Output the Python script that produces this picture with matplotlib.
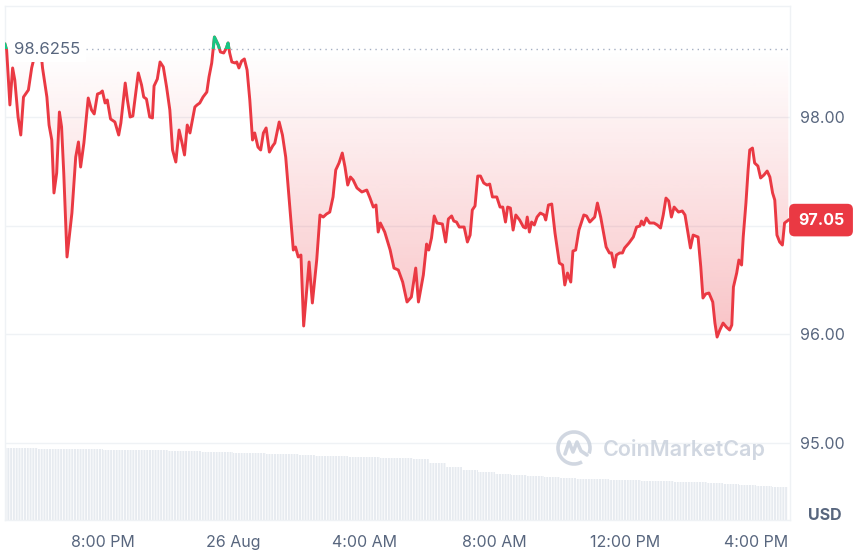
import numpy as np
import pandas as pd
import matplotlib
matplotlib.use('Agg')
import matplotlib.pyplot as plt
import matplotlib.dates as mdates
from matplotlib.path import Path
from matplotlib.patches import Arc, Rectangle, PathPatch

plt.rcParams['font.family'] = ['Inter', 'DejaVu Sans']

# --- data ---
start = pd.Timestamp('2024-08-25 17:00')
baseline = 98.6255
last_price = 97.05

minutes = [0, 3, 9, 14, 18, 24, 29, 34, 43, 49, 57, 64, 69, 77, 81, 86, 90, 95, 100, 104,
           108, 114, 123, 130, 135, 139, 145, 153, 159, 164, 170, 175, 179, 184, 188, 194, 202, 209, 213, 221,
           225, 230, 235, 245, 251, 255, 260, 266, 271, 274, 280, 285, 291, 297, 303, 308, 314, 320, 325, 330,
           335, 340, 349, 353, 358, 364, 371, 375, 380, 385, 392, 396, 402, 407, 410, 413, 417, 423, 426, 430,
           435, 440, 445, 450, 455, 459, 465, 470, 475, 480, 486, 492, 496, 504, 510, 516, 522, 530, 534, 539,
           544, 549, 559, 565, 573, 579, 585, 591, 597, 603, 608, 614, 620, 625, 630, 635, 640, 647, 656, 665,
           671, 677, 682, 686, 690, 698, 708, 715, 723, 731, 739, 747, 755, 760, 769, 775, 779, 784, 789, 794,
           804, 810, 815, 821, 825, 830, 835, 844, 850, 855, 859, 864, 869, 874, 880, 886, 891, 896, 904, 910,
           915, 920, 924, 929, 934, 939, 946, 953, 957, 960, 964, 968, 973, 978, 984, 991, 994, 999, 1005, 1011,
           1019, 1025, 1029, 1034, 1040, 1044, 1049, 1055, 1064, 1069, 1075, 1084, 1089, 1095, 1105, 1111, 1115, 1120, 1124, 1130,
           1135, 1139, 1147, 1155, 1161, 1167, 1170, 1174, 1179, 1185, 1193, 1199, 1205, 1210, 1215, 1220, 1225, 1230, 1238, 1245,
           1250, 1256, 1260, 1265, 1274, 1279, 1283, 1288, 1294, 1301, 1305, 1309, 1314, 1320, 1326, 1332, 1336, 1339, 1345, 1349,
           1354, 1357, 1362, 1366, 1369, 1374, 1378, 1384, 1389, 1395, 1401, 1406, 1411, 1415, 1419, 1424, 1429, 1433, 1440]

prices = [98.67, 98.618, 98.111, 98.452, 98.341, 98.000, 97.834, 98.184, 98.249, 98.452,
          98.618, 98.710, 98.452, 98.184, 97.926, 97.788, 97.300, 97.484, 98.046, 97.908,
          97.484, 96.710, 97.115, 97.631, 97.770, 97.539, 97.760, 98.175, 98.065, 98.028,
          98.212, 98.221, 98.240, 98.129, 98.157, 97.982, 97.954, 97.834, 97.945, 98.313,
          98.157, 98.000, 98.009, 98.406, 98.295, 98.184, 98.166, 98.000, 97.991, 98.286,
          98.350, 98.507, 98.461, 98.277, 98.065, 97.696, 97.585, 97.880, 97.770, 97.650,
          97.926, 97.853, 98.092, 98.111, 98.129, 98.184, 98.230, 98.369, 98.498, 98.737,
          98.664, 98.599, 98.590, 98.636, 98.682, 98.590, 98.507, 98.498, 98.507, 98.452,
          98.516, 98.535, 98.433, 98.157, 97.788, 97.853, 97.723, 97.696, 97.853, 97.899,
          97.677, 97.733, 97.760, 97.954, 97.834, 97.631, 97.263, 96.774, 96.802, 96.710,
          96.728, 96.074, 96.664, 96.286, 96.682, 97.097, 97.078, 97.106, 97.124, 97.263,
          97.512, 97.576, 97.668, 97.539, 97.373, 97.447, 97.419, 97.346, 97.309, 97.327,
          97.253, 97.170, 97.189, 96.940, 97.023, 96.940, 96.774, 96.608, 96.590, 96.479,
          96.295, 96.341, 96.608, 96.295, 96.544, 96.829, 96.774, 96.885, 97.088, 97.023,
          97.014, 96.848, 97.060, 97.088, 97.041, 97.032, 96.986, 96.986, 96.848, 96.912,
          97.143, 97.180, 97.456, 97.456, 97.392, 97.373, 97.382, 97.263, 97.263, 97.170,
          97.170, 97.032, 97.170, 97.161, 96.958, 97.097, 97.051, 96.986, 96.977, 97.078,
          96.940, 97.032, 97.005, 97.078, 97.115, 97.097, 97.051, 97.189, 97.198, 96.931,
          96.654, 96.636, 96.452, 96.562, 96.479, 96.765, 96.774, 96.958, 97.097, 97.088,
          97.032, 97.078, 97.207, 97.078, 96.802, 96.747, 96.747, 96.617, 96.728, 96.747,
          96.747, 96.793, 96.839, 96.894, 96.986, 96.995, 97.041, 97.005, 97.069, 97.023,
          97.023, 97.005, 96.977, 97.097, 97.253, 97.226, 97.078, 97.170, 97.124, 97.134,
          97.097, 96.912, 96.793, 96.912, 96.894, 96.617, 96.332, 96.369, 96.378, 96.295,
          96.101, 95.972, 96.037, 96.101, 96.064, 96.037, 96.083, 96.433, 96.562, 96.682,
          96.636, 96.894, 97.207, 97.512, 97.696, 97.714, 97.576, 97.548, 97.438, 97.465,
          97.502, 97.447, 97.300, 97.235, 96.912, 96.848, 96.820, 97.023, 97.05]

# half-hourly volume (relative units), from 5 PM
volume = [72, 72, 71.5, 71.5, 71, 71, 70.5, 70.5, 70, 70, 69.5, 69, 68.5, 68, 67.5, 67,
          66.5, 66, 65, 64.5, 64, 63.5, 63, 62.5, 62, 61, 57, 53, 50, 48, 46, 45,
          44, 43, 42, 41.5, 41, 40.5, 40, 39.5, 39, 38.5, 38, 37.5, 36, 35, 34, 33]

tick_times = ['2024-08-25 20:00', '2024-08-26 00:00', '2024-08-26 04:00',
              '2024-08-26 08:00', '2024-08-26 12:00', '2024-08-26 16:00']
tick_labels = ['8:00 PM', '26 Aug', '4:00 AM', '8:00 AM', '12:00 PM', '4:00 PM']
price_ticks = [95, 96, 97, 98]

RED = '#ea3943'
GREEN = '#16c784'
TEXT = '#58667e'
GRID = '#eff2f5'

t = mdates.date2num(start + pd.to_timedelta(minutes, unit='m'))
p = np.array(prices)
vol_t = mdates.date2num(start + pd.to_timedelta(np.arange(len(volume)) * 30, unit='m'))
x0 = mdates.date2num(start)
x1 = mdates.date2num(start + pd.Timedelta(minutes=1443))

fig = plt.figure(figsize=(8.55, 5.5), dpi=100)
rect = [5 / 855, 30 / 550, 785 / 855, 514 / 550]
ax_v = fig.add_axes(rect)
ax = fig.add_axes(rect)
ax.patch.set_visible(False)

# volume bars in the background
plt.rcParams['hatch.linewidth'] = 0.6
ax_v.bar(vol_t, volume, width=1 / 48, align='edge', color='#e7ebf0',
         edgecolor='white', hatch='||||||', linewidth=0)
ax_v.set_ylim(0, max(volume) * 514 / 72)
ax_v.set_xlim(x0, x1)
ax_v.axis('off')

# gradient fill between line and opening price
ylo, yhi = 94.286, 99.023
below = ax.fill_between(t, p, baseline, where=p <= baseline, interpolate=True,
                        facecolor='none', edgecolor='none')
above = ax.fill_between(t, p, baseline, where=p >= baseline, interpolate=True,
                        facecolor='none', edgecolor='none')

grad = np.zeros((256, 1, 4))
grad[:, 0, :3] = matplotlib.colors.to_rgb(RED)
grad[:, 0, 3] = np.linspace(0.31, 0.0, 256)
img = ax.imshow(grad, extent=[x0, x1, 95.9, baseline], aspect='auto',
                origin='lower', zorder=1, interpolation='bilinear')
paths = below.get_paths()
if paths:
    img.set_clip_path(Path.make_compound_path(*paths), ax.transData)

ggrad = np.zeros((64, 1, 4))
ggrad[:, 0, :3] = matplotlib.colors.to_rgb(GREEN)
ggrad[:, 0, 3] = np.linspace(0.0, 0.2, 64)
gimg = ax.imshow(ggrad, extent=[x0, x1, baseline, 98.75], aspect='auto',
                 origin='lower', zorder=1)
gpaths = above.get_paths()
if gpaths:
    gimg.set_clip_path(Path.make_compound_path(*gpaths), ax.transData)

# grid and baseline
for v in price_ticks:
    ax.axhline(v, color=GRID, lw=1, zorder=0)
ax.axhline(baseline, xmin=0.103, color='#a6b0c3', lw=1, ls=(0, (1, 3)), zorder=2)

# price line: red below open, green above
ax.plot(t, p, color=RED, lw=2.1, solid_joinstyle='round', zorder=3)
gline, = ax.plot(t, p, color=GREEN, lw=2.1, solid_joinstyle='round', zorder=4)
gline.set_clip_path(Rectangle((x0, baseline), x1 - x0, 2, transform=ax.transData))

ax.set_xlim(x0, x1)
ax.set_ylim(ylo, yhi)

# axes styling
for s in ax.spines.values():
    s.set_color(GRID)
    s.set_linewidth(1)
ax.yaxis.tick_right()
ax.set_yticks(price_ticks)
# 97.00 sits under the last-price tag, so it is left blank
ax.set_yticklabels(['' if v == round(last_price) else f'{v:.2f}' for v in price_ticks])
ax.set_xticks(mdates.date2num(pd.to_datetime(tick_times)))
ax.set_xticklabels(tick_labels)
ax.tick_params(axis='both', length=0, colors=TEXT, labelsize=11.5)
ax.tick_params(axis='y', pad=7)
ax.tick_params(axis='x', pad=11)

# opening price label
ax.text(0.012, baseline, f'{baseline:.4f}', transform=ax.get_yaxis_transform(),
        ha='left', va='center', fontsize=12, color=TEXT, zorder=6,
        bbox=dict(boxstyle='square,pad=0.3', fc='white', ec='none'))

# last price tag
ax.text(1.0395, last_price, f'{last_price:.2f}', transform=ax.get_yaxis_transform(),
        ha='center', va='center', fontsize=11.5, fontweight='bold', color='white',
        zorder=7, clip_on=False,
        bbox=dict(boxstyle='round,pad=0.55,rounding_size=0.35', fc=RED, ec='none'))

fig.text(808 / 855, 1 - 515 / 550, 'USD', ha='left', va='center',
         fontsize=11.5, fontweight='bold', color=TEXT)

# watermark
WM = '#c9d1dc'
fig.text(603 / 855, 1 - 449 / 550, 'CoinMarketCap', ha='left', va='center',
         fontsize=15.5, fontweight='semibold', color=WM, alpha=0.85)
cx, cy = 5.74, 1.02
fig.add_artist(Arc((cx, cy), 0.32, 0.32, theta1=-20, theta2=300,
                   transform=fig.dpi_scale_trans, color=WM, lw=2.6, alpha=0.85))
wave = Path([(cx - 0.09, cy - 0.06), (cx - 0.05, cy + 0.06), (cx - 0.01, cy - 0.04),
             (cx + 0.03, cy + 0.06), (cx + 0.07, cy - 0.03), (cx + 0.13, cy - 0.07)])
fig.add_artist(PathPatch(wave, transform=fig.dpi_scale_trans, fc='none', ec=WM,
                         lw=2.6, alpha=0.85, capstyle='round', joinstyle='round'))

fig.savefig('out.png', dpi=100)
